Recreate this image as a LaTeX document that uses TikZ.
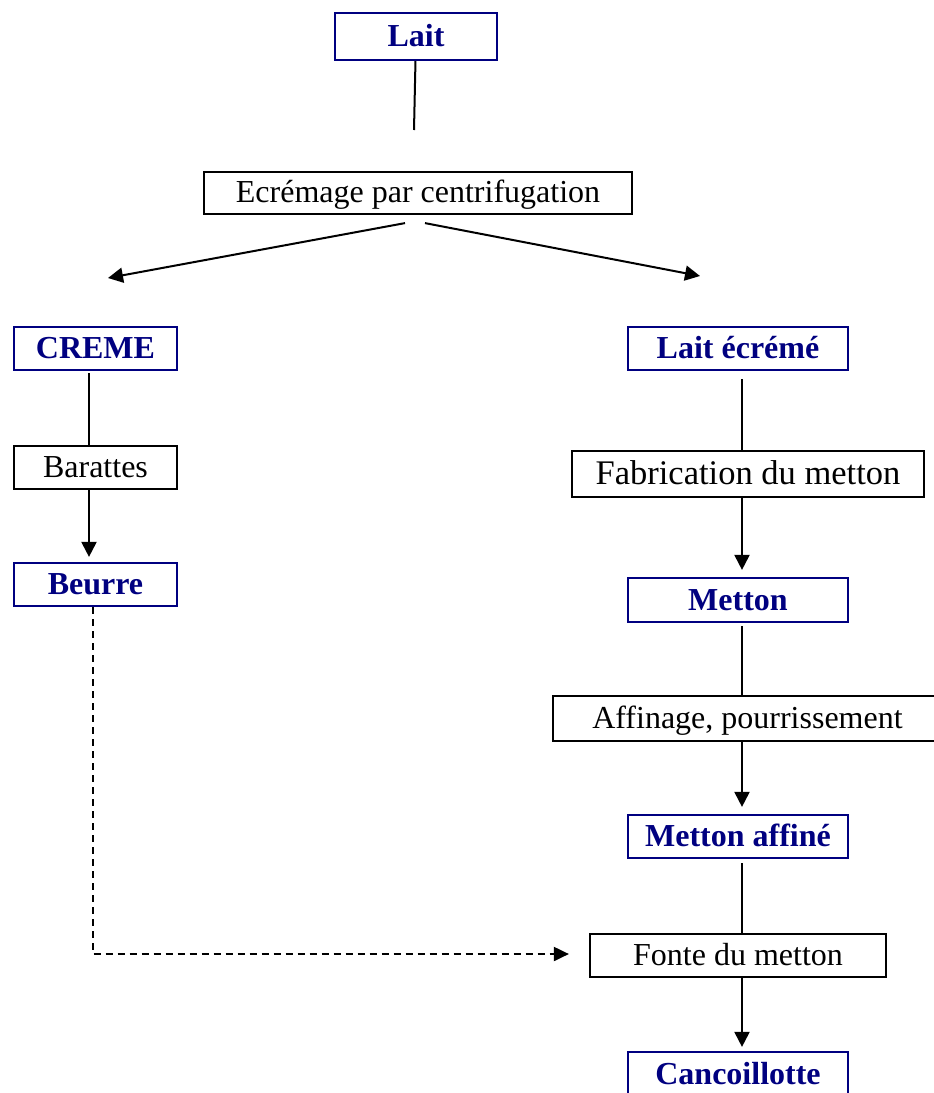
\documentclass[tikz,border=0pt]{standalone}
\usepackage{fontspec}
\setmainfont{Liberation Serif}
\usepackage{tikz}
\usetikzlibrary{arrows.meta,positioning,calc}
\definecolor{navyblue}{HTML}{000080}

\begin{document}
\begin{tikzpicture}[
    x=1pt, y=-1pt,
    box/.style={rectangle, line width=2.2pt, inner sep=0pt, text height=28pt, text depth=8pt, font=\fontsize{32}{38}\selectfont},
    produit/.style={box, draw=navyblue, text=navyblue, font=\fontsize{32}{38}\selectfont\bfseries},
    etape/.style={box, draw=black},
    link/.style={line width=2pt},
    flow/.style={line width=2pt, -{Triangle[length=15pt, width=15pt]}},
    dashflow/.style={line width=2pt, dash pattern=on 7pt off 5pt, -{Triangle[length=15pt, width=14pt]}}
]
\useasboundingbox (0,0) rectangle (934,1093);

% Tronc commun
\node[produit, minimum width=162pt, minimum height=47pt] (lait) at (416,36.5) {Lait};
\node[etape, minimum width=428pt, minimum height=42pt, text height=26pt] (ecremage) at (418,193) {Ecrémage par centrifugation};
\coordinate (laitend) at (414,130);
\coordinate (gauche) at (108,278);
\coordinate (droite) at (700,276);

% Colonne de gauche : la creme
\coordinate (colL) at (89,0);
\node[produit, minimum width=163pt, minimum height=43pt] (creme) at (95.5,348.5) {CREME};
\node[etape, minimum width=163pt, minimum height=43pt] (barattes) at (95.5,467.5) {Barattes};
\node[produit, minimum width=163pt, minimum height=43pt] (beurre) at (95.5,584.5) {Beurre};

% Colonne de droite : le lait ecreme
\coordinate (colR) at (742,0);
\node[produit, minimum width=220pt, minimum height=43pt] (laitecreme) at (738,348.5) {Lait écrémé};
\node[etape, minimum width=352pt, minimum height=46pt, font=\fontsize{34.5}{40}\selectfont] (fabrication) at (748,474) {Fabrication du metton};
\node[produit, minimum width=220pt, minimum height=44pt] (metton) at (738,600) {Metton};
\node[etape, minimum width=389pt, minimum height=45pt] (affinage) at (747.5,718.5) {Affinage, pourrissement};
\node[produit, minimum width=220pt, minimum height=43pt] (mettonaffine) at (738,836.5) {Metton affiné};
\node[etape, minimum width=296pt, minimum height=43pt] (fonte) at (738,955.5) {Fonte du metton};
\node[produit, minimum width=220pt, minimum height=44pt] (cancoillotte) at (738,1074) {Cancoillotte};

% Connecteurs
\draw[link] (lait) -- (laitend);
\draw[flow] ([xshift=-13pt, yshift=-8pt]ecremage.south) -- (gauche);
\draw[flow] ([xshift=7pt, yshift=-8pt]ecremage.south) -- (droite);

\draw[link, shorten <=2pt] (creme.south -| colL) -- (barattes.north -| colL);
\draw[flow, shorten >=5pt] (barattes.south -| colL) -- (beurre.north -| colL);
\draw[dashflow] ([xshift=-3pt]beurre.south) |- ([xshift=-20pt, yshift=1.5pt]fonte.west);

\draw[link, shorten <=8pt] (laitecreme.south -| colR) -- (fabrication.north -| colR);
\draw[flow, shorten >=7pt] (fabrication.south -| colR) -- (metton.north -| colR);
\draw[link, shorten <=3pt] (metton.south -| colR) -- (affinage.north -| colR);
\draw[flow, shorten >=7pt] (affinage.south -| colR) -- (mettonaffine.north -| colR);
\draw[link, shorten <=4pt] (mettonaffine.south -| colR) -- (fonte.north -| colR);
\draw[flow, shorten >=4pt] (fonte.south -| colR) -- (cancoillotte.north -| colR);

\end{tikzpicture}
\end{document}
